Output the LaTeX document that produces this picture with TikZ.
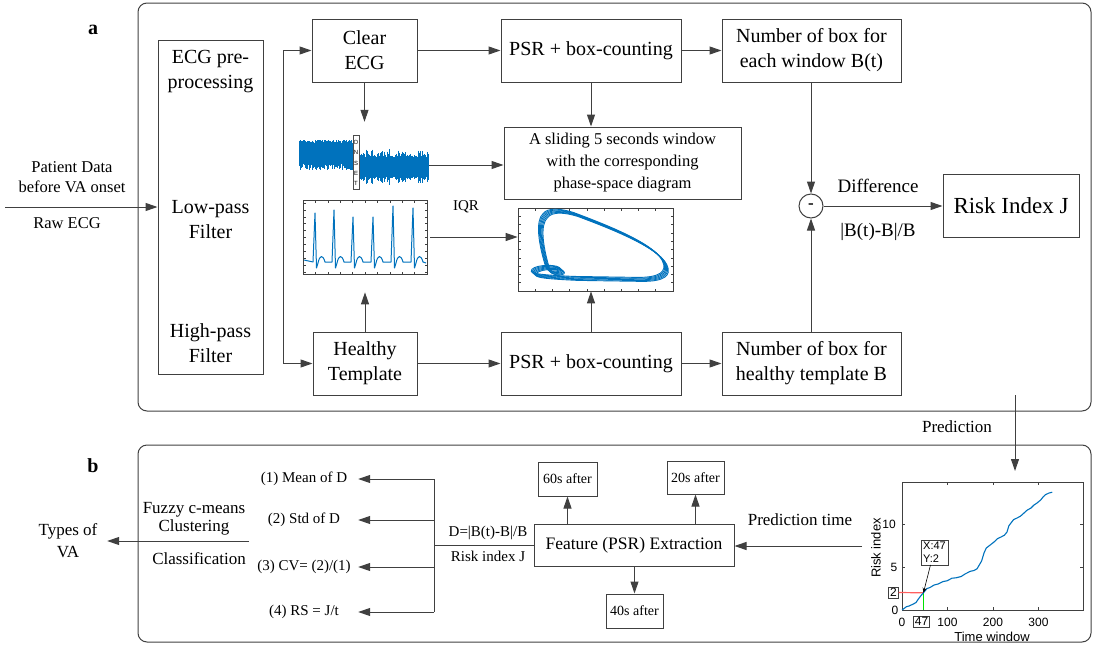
\documentclass[tikz,border=0pt]{standalone}
\usepackage{fontspec}
\setmainfont{Liberation Serif}
\newfontfamily\arial{Liberation Sans}
\usetikzlibrary{arrows.meta,calc}
\definecolor{lc}{RGB}{64,64,64}
\definecolor{mblue}{RGB}{0,114,189}
\definecolor{dred}{RGB}{255,95,95}
\definecolor{dgreen}{RGB}{0,225,0}
\tikzset{
  box/.style={draw=lc, line width=1pt, inner sep=0pt, align=center, font=\fontsize{20}{25}\selectfont},
  arr/.style={draw=lc, line width=1pt, -{Triangle[length=12pt,width=8pt]}},
  ln/.style={draw=lc, line width=1pt},
  lbl/.style={align=center, inner sep=0pt, font=\fontsize{17}{21}\selectfont},
  small/.style={align=center, inner sep=0pt, font=\fontsize{15}{23}\selectfont},
  panel/.style={draw=lc, line width=1pt, rounded corners=9pt},
  sig/.style={mblue, line width=0.8pt, line join=round},
  axisbox/.style={draw=black!75, line width=0.7pt, inner sep=0pt},
  tick/.style={black!75, line width=0.5pt},
  ptxt/.style={inner sep=0pt, font=\arial\fontsize{12}{14}\selectfont},
}
\begin{document}
\begin{tikzpicture}[x=1pt,y=-1pt]
\useasboundingbox (0,0) rectangle (1093,648);
\pgfmathsetseed{7}

% ---------------- panels ----------------
\draw[panel] (138,3) rectangle (1091,411);
\draw[panel] (138,445) rectangle (1091,642);
\node[font=\bfseries\fontsize{20}{20}\selectfont] (la) at (93,30) {a};
\node[font=\bfseries\fontsize{20}{20}\selectfont] (lb) at (93,466) {b};

% ---------------- panel a ----------------
\node[box, minimum width=105, minimum height=334] (pre) at (210.5,207) {};
\node[box, draw=none] (preA) at (210.5,72) {ECG pre-\\processing};
\node[box, draw=none] (preB) at (210.5,220) {Low-pass\\Filter};
\node[box, draw=none] (preC) at (210.5,343) {High-pass\\Filter};

\coordinate (in) at (5,207);
\draw[arr] (in) -- (pre.west);
\node[lbl, font=\fontsize{16.5}{20}\selectfont] (pd) at (72,177) {Patient Data\\before VA onset};
\node[lbl, font=\fontsize{16.5}{20}\selectfont] (raw) at (67,223) {Raw ECG};

\node[box, minimum width=105, minimum height=63] (clear) at (364.5,50.5) {Clear\\ECG};
\node[box, minimum width=180, minimum height=63] (psrT) at (591,50.5) {PSR + box-counting};
\node[box, minimum width=179, minimum height=63] (numT) at (811.5,50.5) {Number of box for\\each window B(t)};
\node[box, minimum width=237, minimum height=72, font=\fontsize{16.5}{22}\selectfont] (slide) at (622.5,163) {A sliding 5 seconds window\\with the corresponding\\phase-space diagram};

\node[box, minimum width=104, minimum height=63] (healthy) at (365,363.5) {Healthy\\Template};
\node[box, minimum width=180, minimum height=63] (psrB) at (591,363.5) {PSR + box-counting};
\node[box, minimum width=179, minimum height=63] (numB) at (811.5,363.5) {Number of box for\\healthy template B};

\node[draw=lc, line width=1pt, circle, minimum size=24, inner sep=0pt, font=\bfseries\fontsize{17}{17}\selectfont] (minus) at (811,206) {-};
\node[box, minimum width=136, minimum height=63, font=\fontsize{23}{27}\selectfont] (risk) at (1011,205.5) {Risk Index J};
\node[lbl, font=\fontsize{19}{22}\selectfont] (diff) at (878,186) {Difference};
\node[lbl, font=\fontsize{19}{22}\selectfont] (diffF) at (878,232) {|B(t)-B|/B};

% --- raw ECG signal picture ---
\node[inner sep=0pt, minimum width=130, minimum height=60] (sig) at (364,165) {};
\foreach \i in {0,...,106} {
  \pgfmathsetmacro\xx{299+\i*0.5}
  \pgfmathsetmacro\ya{140+4*rnd}
  \pgfmathsetmacro\yb{163+7*rnd}
  \draw[mblue, line width=0.6pt] (\xx,\ya) -- (\xx,\yb);
}
\fill[mblue] (299,144) rectangle (352,163);
\foreach \i in {0,...,136} {
  \pgfmathsetmacro\xx{360+\i*0.5}
  \pgfmathsetmacro\am{8+9*rnd*rnd+3*rnd}
  \draw[mblue, line width=0.6pt] (\xx,167-\am) -- (\xx,167+\am);
}
\node[draw=black!70, fill=white, line width=0.6pt, minimum width=6, minimum height=54, inner sep=0pt] (onset) at (356,162) {};
\foreach \c/\y in {O/142,N/152,S/163,E/173,T/183}
  \node[inner sep=0pt, font=\arial\fontsize{6}{6}\selectfont] at (356,\y) {\c};

% --- ECG template plot ---
\node[axisbox, draw, minimum width=124, minimum height=74] (tmpl) at (365,237) {};
\foreach \k in {0,...,10} {
  \draw[tick] (303,203+\k*6.9) -- ++(2.5,0);
  \draw[tick] (427,203+\k*6.9) -- ++(-2.5,0);
}
\foreach \k in {0,...,10} {
  \draw[tick] (303+\k*12.4,274) -- ++(0,-2.5);
  \draw[tick] (303+\k*12.4,200) -- ++(0,2.5);
}
\draw[sig, line width=1pt] (304,260)
  foreach \s/\h in {315/213,334/210,353/217,373/217,393/206,413/208}
  { -- (\s-2,262) -- (\s,\h) -- (\s+1.5,268) -- (\s+3,263)
    .. controls (\s+5,254) and (\s+8,255) .. (\s+10,262) } -- (426,263);
\node[small] (iqr) at (466,207) {IQR};

% --- phase-space plot ---
\node[axisbox, draw, minimum width=155, minimum height=83] (phase) at (595.5,249.5) {};
\foreach \k in {0,...,10} {
  \draw[tick] (518,208+\k*8.3) -- ++(2.5,0);
  \draw[tick] (673,208+\k*8.3) -- ++(-2.5,0);
}
\foreach \k in {0,...,9} {
  \draw[tick] (518+\k*17.2,291) -- ++(0,-2.5);
  \draw[tick] (518+\k*17.2,208) -- ++(0,2.5);
}
\foreach \d in {-2,-1,0,1,2,3} {
\draw[sig, line width=0.9pt, shift={(\d*0.9,\d*0.8)}] (548,270)
  .. controls (540,245) and (537,222) .. (545,215)
  .. controls (550,209) and (562,210) .. (575,214)
  .. controls (610,227) and (655,245) .. (664,262)
  .. controls (670,274) and (660,279) .. (640,279)
  -- (575,278)
  .. controls (555,277) and (534,276) .. (533,273)
  .. controls (532,267) and (555,265) .. (561,269)
  .. controls (565,273) and (552,274) .. (548,270);
}

% --- connectors panel a ---
\coordinate (br) at (283,207);
\draw[arr] (br) |- (clear.west);
\draw[arr] (br) |- (healthy.west);
\draw[arr] (clear) -- (psrT);
\draw[arr] (psrT) -- (numT);
\draw[arr, shorten >=13pt] (clear.south) -- (clear.south |- sig.north);
\draw[arr] (psrT.south) -- (psrT.south |- slide.north);
\draw[arr] (sig.east) -- (sig.east -| slide.west);
\draw[arr, shorten <=3pt] (tmpl.east) -- (tmpl.east -| phase.west);
\draw[arr, shorten >=18pt] (healthy.north) -- (healthy.north |- tmpl.south);
\draw[arr] (psrB.north) -- (psrB.north |- phase.south);
\draw[arr] (healthy) -- (psrB);
\draw[arr] (psrB) -- (numB);
\draw[arr] (numT.south -| minus) -- (minus.north);
\draw[arr] (numB.north -| minus) -- (minus.south);
\draw[arr] (minus.east) -- (risk.west |- minus.east);

% --- prediction ---
\coordinate (predS) at (1015,395);
\coordinate (predE) at (1015,471);
\draw[arr] (predS) -- (predE);
\node[lbl] (predL) at (957,427) {Prediction};

% ---------------- panel b ----------------
\node[box, minimum width=200, minimum height=42, font=\fontsize{17.5}{21}\selectfont] (feat) at (634,545) {Feature (PSR) Extraction};
\node[box, minimum width=59, minimum height=34, font=\fontsize{14}{16}\selectfont] (b60) at (567.5,479) {60s after};
\node[box, minimum width=57, minimum height=33, font=\fontsize{14}{16}\selectfont] (b20) at (695.5,477.5) {20s after};
\node[box, minimum width=57, minimum height=34, font=\fontsize{14}{16}\selectfont] (b40) at (634.5,611) {40s after};
\draw[arr] (feat.north -| b60) -- (b60.south);
\draw[arr] (feat.north -| b20) -- (b20.south);
\draw[arr] (feat.south -| b40) -- (b40.north);

\coordinate (ptS) at (862,546);
\draw[arr] (ptS) -- (feat.east |- ptS);
\node[lbl] (ptL) at (800,520) {Prediction time};

\node[small, font=\fontsize{15}{23}\selectfont] (dl) at (488,533) {D=|B(t)-B|/B};
\node[small, font=\fontsize{15}{23}\selectfont] (rj) at (488,556) {Risk index J};

\coordinate (jn) at (434,545);
\node[small, minimum width=108] (m1) at (304,479) {(1) Mean of D};
\node[small, minimum width=108] (m2) at (304,520) {(2) Std of D};
\node[small, minimum width=108] (m3) at (304,567) {(3) CV= (2)/(1)};
\node[small, minimum width=108] (m4) at (304,612) {(4) RS = J/t};
\draw[ln] (feat.west) -- (jn);
\draw[ln] (jn |- m1) -- (jn |- m4);
\draw[arr] (jn |- m1) -- (m1.east);
\draw[arr] (jn |- m2) -- (m2.east);
\draw[arr] (jn |- m3) -- (m3.east);
\draw[arr] (jn |- m4) -- (m4.east);

\node[lbl, minimum width=78, font=\fontsize{17}{22}\selectfont] (types) at (68,541) {Types of\\VA};
\coordinate (clS) at (249,541);
\draw[arr] (clS) -- (types.east);
\node[lbl, font=\fontsize{17}{18.5}\selectfont] (fcm) at (194,519) {Fuzzy c-means\\Clustering};
\node[lbl] (cls) at (199,559) {Classification};

% --- risk index plot ---
\node[axisbox, draw, minimum width=181, minimum height=128] (rplot) at (992.5,546) {};
\foreach \x in {902,947.5,993,1038.5} {
  \draw[tick] (\x,610) -- ++(0,-3);
  \draw[tick] (\x,482) -- ++(0,3);
}
\foreach \y in {610,567,524} {
  \draw[tick] (902,\y) -- ++(3,0);
  \draw[tick] (1083,\y) -- ++(-3,0);
}
\node[ptxt] (x0) at (902,622) {0};
\node[ptxt] (x100) at (947.5,622) {100};
\node[ptxt] (x200) at (993,622) {200};
\node[ptxt] (x300) at (1038.5,622) {300};
\node[ptxt, draw=black!75, inner sep=1.5pt] (x47) at (921.5,621.5) {47};
\node[ptxt] (y0) at (895,610) {0};
\node[ptxt] (y5) at (894,567) {5};
\node[ptxt] (y10) at (889,524) {10};
\node[ptxt, draw=black!75, inner sep=1.5pt] (y2) at (893.5,592.5) {2};
\node[ptxt, font=\arial\fontsize{13}{14}\selectfont] (xl) at (992,637) {Time window};
\node[ptxt, font=\arial\fontsize{13}{14}\selectfont, rotate=90] (yl) at (876,548) {Risk index};

\coordinate (p47) at (923.4,592.8);
\draw[dred, line width=1.2pt] (y2.east) -- (p47);
\draw[dgreen, line width=1.2pt] (p47) -- (p47 |- rplot.south);
\draw[sig, line width=1.1pt] (902,610) -- (906.6,606.6) -- (909,606) -- (913.4,604) -- (916,602.5)
  -- (917.9,599.7) -- (920.5,596.2) -- (923.4,592.8) -- (927,588.5) -- (930,587.5) -- (933.9,585.1)
  -- (938,584) -- (943,581.6) -- (947,580.8) -- (952,578.2) -- (956,577.8) -- (961.2,576.5)
  -- (965,574) -- (970.3,571.3) -- (974,570.5) -- (977.1,568.7) -- (981.6,561) -- (984,553)
  -- (986.2,548.1) -- (990.7,544.6) -- (994,542) -- (997.6,538.6) -- (1001,537) -- (1004.4,535.2)
  -- (1007,532) -- (1008.9,525.7) -- (1013.5,519.7) -- (1017,518) -- (1020.3,516.3)
  -- (1024,513) -- (1027.1,510.2) -- (1031,508) -- (1033.9,505.1) -- (1037,503) -- (1040.8,499.9)
  -- (1043,497) -- (1045.3,494.8) -- (1049,493) -- (1052.2,492.2);
\node[ptxt, draw=black!75, fill=white, align=left, inner sep=2pt, font=\arial\fontsize{11}{13}\selectfont] (tip) at (934.5,552.5) {X:47\\Y:2};
\draw[black, line width=0.6pt, -{Stealth[length=5pt,width=4pt]}] ([xshift=-4pt]tip.south) -- (p47);
\end{tikzpicture}
\end{document}
